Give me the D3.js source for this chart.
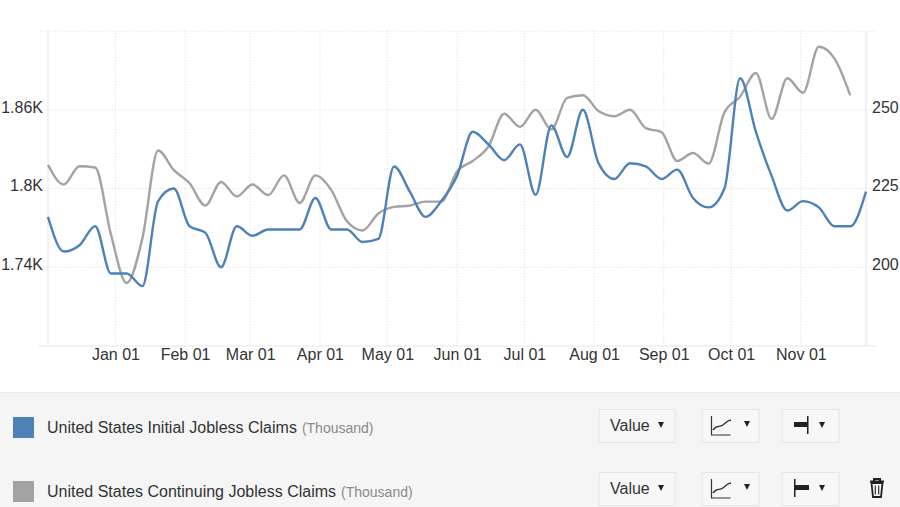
<!DOCTYPE html>
<html><head><meta charset="utf-8">
<script src="https://cdn.jsdelivr.net/npm/d3@7"></script>
<style>
html,body{margin:0;padding:0;background:#fff;overflow:hidden}
svg{display:block}
text{font-family:"Liberation Sans",Arial,sans-serif}
</style></head><body>
<svg id="c" width="900" height="507"></svg>
<script>
const firstWeek = "2023-12-02";
const initialClaims = [216,205,207,213,198,198,194,221,225,213,211,200,213,210,212,212,212,222,212,212,208,209,232,224,216,221,229,243,239,234,239,223,245,235,250,233,228,233,232,228,231,222,219,225,260,243,229,218,221,219,213,213,224];
const continuingClaims = [1818,1803,1817,1816,1765,1728,1762,1829,1814,1804,1787,1805,1794,1803,1795,1810,1789,1810,1799,1775,1768,1781,1786,1787,1790,1790,1813,1821,1832,1857,1847,1860,1845,1869,1871,1859,1855,1860,1846,1843,1821,1827,1819,1858,1870,1888,1853,1884,1873,1908,1899,1871];
const leftTicks = [1740,1800,1860];
const rightTicks = [200,225,250];
const monthTicks = ["2024-01-01","2024-02-01","2024-03-01","2024-04-01","2024-05-01","2024-06-01","2024-07-01","2024-08-01","2024-09-01","2024-10-01","2024-11-01"];
const seriesNames = ["United States Initial Jobless Claims","United States Continuing Jobless Claims"];
const seriesUnit = "(Thousand)";
const seriesColors = ["#4e81b8","#a3a3a3"];

const parse = d3.utcParse("%Y-%m-%d");
const weekAt = i => d3.utcDay.offset(parse(firstWeek), i*7);
const L=48,R=866,T=31,B=346;
const x = d3.scaleUtc().domain([weekAt(0),weekAt(52)]).range([L,R]);
const yL = d3.scaleLinear().domain([1680,1920]).range([B,T]);
const yR = d3.scaleLinear().domain([175,275]).range([B,T]);
const svg = d3.select("#c");

const monthDates = monthTicks.map(parse);
const grid = svg.append("g").attr("fill","none");
grid.selectAll(".v").data(monthDates).join("line")
  .attr("x1",d=>x(d)).attr("x2",d=>x(d)).attr("y1",T-1).attr("y2",B)
  .attr("stroke","#e6e6e6").attr("stroke-dasharray","1.5 1.5");
grid.selectAll(".h").data([...leftTicks,1920]).join("line")
  .attr("x1",L-8).attr("x2",R+10).attr("y1",d=>yL(d)).attr("y2",d=>yL(d))
  .attr("stroke","#e6e6e6").attr("stroke-dasharray","1.5 1.5");
grid.append("line").attr("x1",L).attr("x2",L).attr("y1",T-1).attr("y2",B).attr("stroke","#ececec").attr("stroke-width",1.5);
grid.append("line").attr("x1",R).attr("x2",R).attr("y1",T-1).attr("y2",B).attr("stroke","#ececec").attr("stroke-width",1.5);
grid.append("line").attr("x1",L-10).attr("x2",R+10).attr("y1",B).attr("y2",B).attr("stroke","#e8e8e8").attr("stroke-width",1.2);

function cleanAxis(g){g.select(".domain").remove();g.selectAll("line").remove();
  g.selectAll("text").attr("fill","#333").attr("font-size",16).attr("font-family",'"Liberation Sans",Arial,sans-serif');}
svg.append("g").attr("transform",`translate(${L},0)`)
  .call(d3.axisLeft(yL).tickValues(leftTicks).tickSize(0).tickPadding(5).tickFormat(d=>(d/1000)+"K"))
  .call(cleanAxis).selectAll("text").attr("dy","0.15em");
svg.append("g").attr("transform",`translate(${R},0)`)
  .call(d3.axisRight(yR).tickValues(rightTicks).tickSize(0).tickPadding(6))
  .call(cleanAxis).selectAll("text").attr("dy","0.15em");
svg.append("g").attr("transform",`translate(0,${B})`)
  .call(d3.axisBottom(x).tickValues(monthDates).tickSize(0).tickPadding(3).tickFormat(d3.utcFormat("%b %d")))
  .call(cleanAxis);

const line = yS => d3.line().x((d,i)=>x(weekAt(i))).y(d=>yS(d)).curve(d3.curveMonotoneX);
svg.append("path").attr("d",line(yL)(continuingClaims)).attr("fill","none").attr("stroke",seriesColors[1]).attr("stroke-width",2.4);
svg.append("path").attr("d",line(yR)(initialClaims)).attr("fill","none").attr("stroke",seriesColors[0]).attr("stroke-width",2.4);

// legend panel
svg.append("rect").attr("x",0).attr("y",392).attr("width",900).attr("height",115).attr("fill","#f5f5f5");
svg.append("line").attr("x1",0).attr("x2",900).attr("y1",392.5).attr("y2",392.5).attr("stroke","#e9e9e9");
const rows=[417,481];
rows.forEach((ry,i)=>{
  svg.append("rect").attr("x",13).attr("y",ry).attr("width",21).attr("height",21).attr("fill",seriesColors[i]);
  const t=svg.append("text").attr("x",47).attr("y",ry+15.5).attr("fill","#333").attr("font-size",16);
  t.append("tspan").text(seriesNames[i]);
  t.append("tspan").attr("dx",5).attr("fill","#8a8a8a").attr("font-size",14).text(seriesUnit);
  const by=[409,472][i];
  const box=(bx,w)=>svg.append("rect").attr("x",bx+.5).attr("y",by+.5).attr("width",w).attr("height",33).attr("fill","#f7f7f7").attr("stroke","#e6e6e6");
  const tri=(cx,cy)=>svg.append("path").attr("d",`M${cx-3},${cy-3}h6l-3,6z`).attr("fill","#222");
  box(598.5,76);
  svg.append("text").attr("x",610).attr("y",by+22).attr("fill","#333").attr("font-size",16).text("Value");
  tri(661,by+16);
  box(701.5,57);
  svg.append("path").attr("d",`M711.5,${by+7}V${by+26}H730.5`).attr("fill","none").attr("stroke","#333").attr("stroke-width",1.2);
  svg.append("path").attr("d",`M713,${by+21}C717,${by+15} 719,${by+19} 723,${by+16}S728,${by+11} 731,${by+11}`).attr("fill","none").attr("stroke","#333").attr("stroke-width",1.4);
  tri(747,by+15);
  box(781.5,57);
  if(i===0){
    svg.append("rect").attr("x",794).attr("y",by+13).attr("width",13).attr("height",5).attr("fill","#222");
    svg.append("rect").attr("x",807).attr("y",by+7).attr("width",1.5).attr("height",18).attr("fill","#222");
  } else {
    svg.append("rect").attr("x",794).attr("y",by+7).attr("width",1.5).attr("height",18).attr("fill","#222");
    svg.append("rect").attr("x",795).attr("y",by+13).attr("width",14).attr("height",5).attr("fill","#222");
  }
  tri(822,by+16);
});
// trash icon
const tr=svg.append("g").attr("fill","none").attr("stroke","#222");
tr.append("path").attr("d","M870,481.5H884M874,481V479H880V481").attr("stroke-width",2);
tr.append("path").attr("d","M871.5,483L873,497H881L882.5,483Z").attr("stroke-width",1.8);
tr.append("path").attr("d","M875.3,485.5V494.5M878.7,485.5V494.5").attr("stroke-width",1.1);
</script>
</body></html>
